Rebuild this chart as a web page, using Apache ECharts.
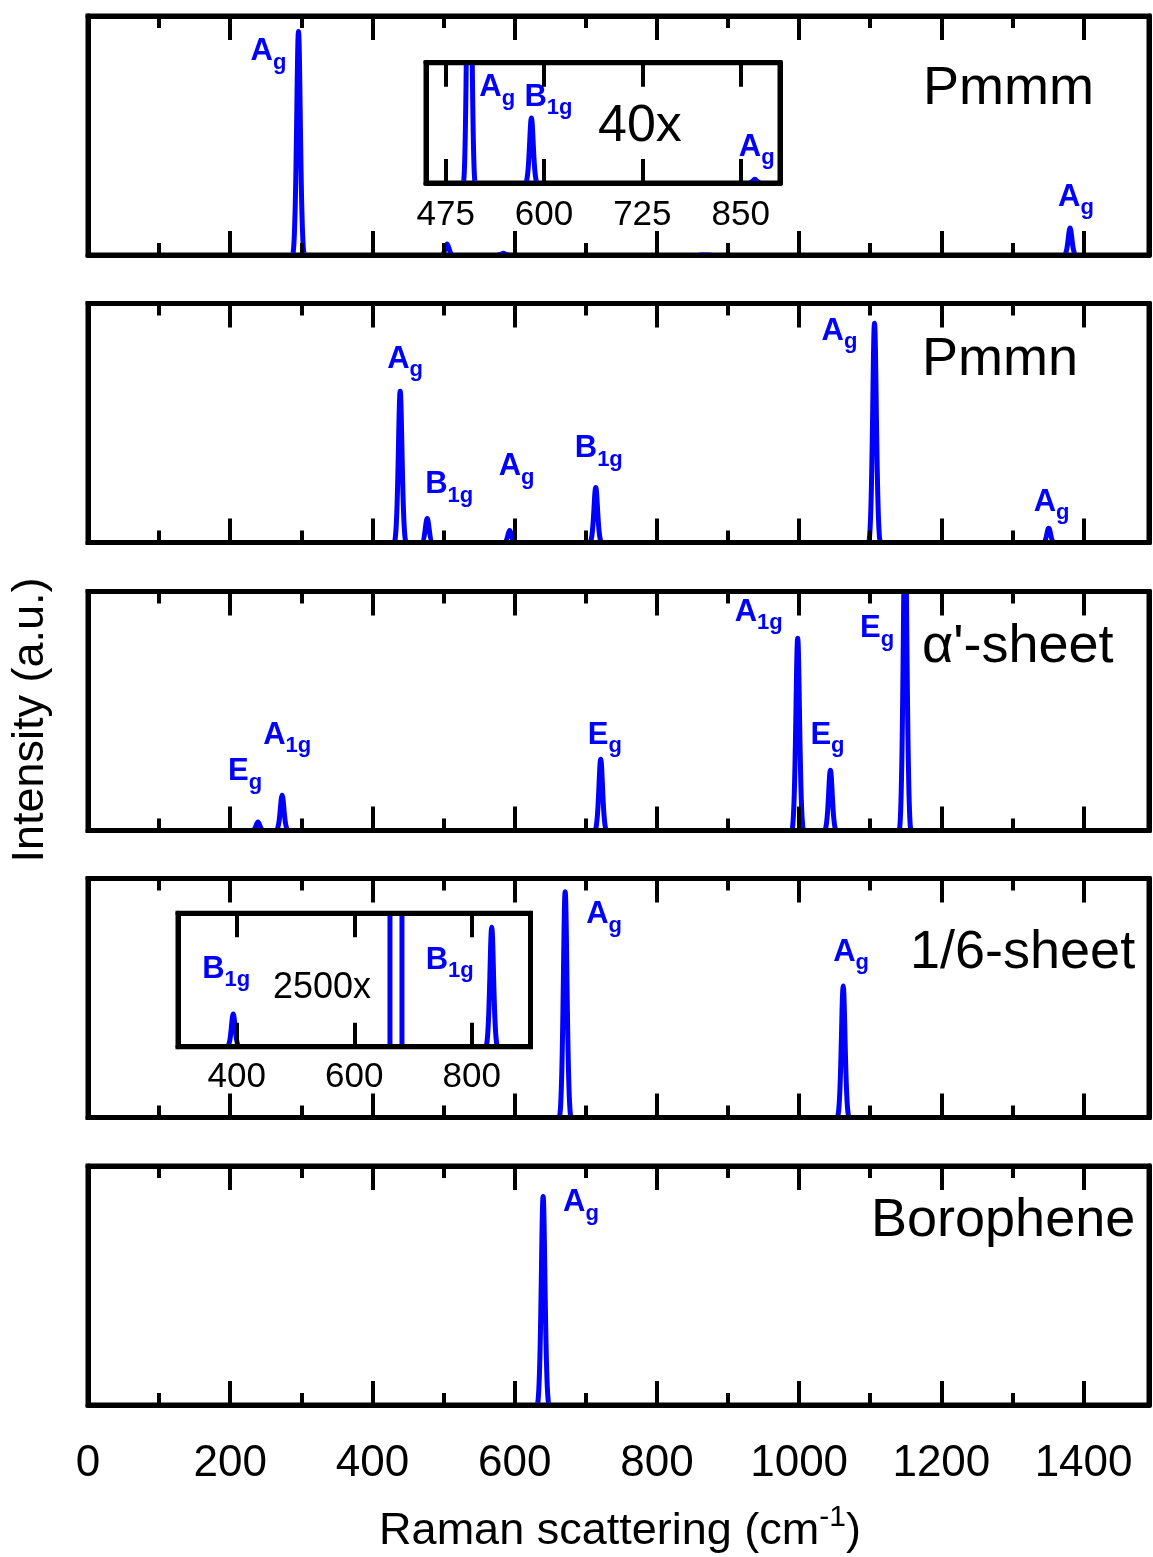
<!DOCTYPE html>
<html>
<head>
<meta charset="utf-8">
<script src="https://cdn.jsdelivr.net/npm/echarts@6/dist/echarts.min.js"></script>
<style>
  html, body { margin: 0; padding: 0; background: #fff; }
  #root { width: 1153px; height: 1557px; }
</style>
</head>
<body>
<div id="root"></div>
<script>
// ---- data ----
var majorTicks = [0, 200, 400, 600, 800, 1000, 1200, 1400];
var minorTicks = [100, 300, 500, 700, 900, 1100, 1300];
var inset1Ticks = [475, 600, 725, 850];
var inset2Ticks = [400, 600, 800];

var panelNames = ['Pmmm', 'Pmmn', "\u03b1'-sheet", '1/6-sheet', 'Borophene'];

// peak positions (cm-1), relative intensities, mode names
var pmmmPos = [296, 505, 584, 868, 1381];
var pmmmInt = [0.935, 0.046, 0.0068, 0.00038, 0.113];
var pmmmModes = ['A_g', 'A_g', 'B_1g', 'A_g', 'A_g'];

var pmmnPos = [439, 477, 593, 714, 1106, 1351];
var pmmnInt = [0.633, 0.10, 0.05, 0.23, 0.917, 0.06];
var pmmnModes = ['A_g', 'B_1g', 'A_g', 'B_1g', 'A_g', 'A_g'];

var alphaPos = [239, 273, 721, 998, 1044, 1149];
var alphaInt = [0.036, 0.147, 0.298, 0.804, 0.252, 1.3];
var alphaModes = ['E_g', 'A_1g', 'E_g', 'A_1g', 'E_g', 'E_g'];

var sixthPos = [394, 671, 834, 1062];
var sixthInt = [0.0000547, 0.945, 0.0002, 0.55];
var sixthModes = ['B_1g', 'A_g', 'B_1g', 'A_g'];

var boroPos = [640];
var boroInt = [0.872];
var boroModes = ['A_g'];

var insetFactors = [40, 2500];

// ---- layout / style ----
var FONT = 'Liberation Sans';
var BLUE = '#0000ff';
var X_MAX = 1492;
var LEFT = 88;
var PLOT_W = 1061;
var PANEL_TOPS = [16, 303.5, 591.5, 878.5, 1166];
var PANEL_H = 239;
var PEAK_HW = 6; // half base width of a drawn peak, px

// label offsets (px) from the peak top, per peak index
var panelLabels = [
  { 0: [-48, 20], 4: [-12, -31] },
  { 0: [-13, -32], 1: [-2, -34], 2: [-11, -64], 3: [-21, -39], 4: [-53, 8], 5: [-15, -26] },
  { 0: [-30, -50], 1: [-19, -60], 2: [-13, -24], 3: [-63, -26], 4: [-20, -35], 5: [-45, 37] },
  { 1: [21, 23], 3: [-10, -34] },
  { 0: [20, 6] }
];
var insets = [
  { panel: 0, left: 426, top: 62.7, width: 354, height: 120.3, min: 450, max: 900, ticks: inset1Ticks,
    margin: 32, labels: { 1: [10, 25], 2: [-7, -21], 3: [-16, -32] }, textPos: [598, 127], fontSize: 52 },
  { panel: 3, left: 178, top: 913.3, width: 352.5, height: 133.4, min: 300, max: 900, ticks: inset2Ticks,
    margin: 31, labels: { 0: [-31, -45], 2: [-66, 33] }, textPos: [273, 988], fontSize: 36 }
];
var namePos = [[923, 89], [922, 360], [922, 647], [910, 953], [871, 1221]];

var panels = [
  { pos: pmmmPos, int: pmmmInt, modes: pmmmModes },
  { pos: pmmnPos, int: pmmnInt, modes: pmmnModes },
  { pos: alphaPos, int: alphaInt, modes: alphaModes },
  { pos: sixthPos, int: sixthInt, modes: sixthModes },
  { pos: boroPos, int: boroInt, modes: boroModes }
];

var modeRich = {
  m: { fontSize: 31, fontWeight: 'bold', fontFamily: FONT, fill: BLUE, lineHeight: 31 },
  s: { fontSize: 22, fontWeight: 'bold', fontFamily: FONT, fill: BLUE, lineHeight: 22, padding: [22, 0, 0, 0] }
};

function modeText (mode) {
  var p = mode.split('_');
  return '{m|' + p[0] + '}{s|' + p[1] + '}';
}

function peakRenderer (modes, labels) {
  return function (params, api) {
    var x = api.value(0);
    var h = api.value(1);
    var k = api.value(2);
    var base = api.coord([x, 0]);
    var top = api.coord([x, h]);
    var cs = params.coordSys;
    var d = ['M', base[0] - PEAK_HW, base[1],
      'C', base[0] - PEAK_HW * 0.35, base[1], top[0] - 1.6, top[1], top[0], top[1],
      'C', top[0] + 1.6, top[1], base[0] + PEAK_HW * 0.35, base[1], base[0] + PEAK_HW, base[1]].join(' ');
    var children = [{
      type: 'path',
      shape: { pathData: d },
      style: { fill: 'none', stroke: BLUE, lineWidth: 5, lineJoin: 'round' }
    }];
    var off = labels[k];
    if (off) {
      var yRef = Math.max(top[1], cs.y);
      children.push({
        type: 'text',
        x: top[0] + off[0],
        y: yRef + off[1],
        style: { text: modeText(modes[k]), rich: modeRich, fill: BLUE, align: 'left', verticalAlign: 'middle' }
      });
    }
    return { type: 'group', children: children };
  };
}

var grids = [], xAxes = [], yAxes = [], series = [];

function addBox (rect, xmin, xmax, ymax, tickSets, showLabels, labelOpt) {
  var gi = grids.length;
  grids.push({
    left: rect.left, top: rect.top, width: rect.width, height: rect.height,
    show: true, borderWidth: 5, borderColor: '#000', backgroundColor: 'transparent',
    outerBoundsMode: 'none'
  });
  var firstX = xAxes.length;
  ['bottom', 'top'].forEach(function (position) {
    tickSets.forEach(function (ts, j) {
      xAxes.push({
        type: 'value', gridIndex: gi, min: xmin, max: xmax, position: position, z: 5,
        axisLine: { show: j === 0, onZero: false, lineStyle: { color: '#000', width: 5 } },
        axisTick: { show: true, inside: true, length: ts.len, customValues: ts.values,
          lineStyle: { color: '#000', width: 4 } },
        axisLabel: {
          show: showLabels && position === 'bottom' && j === 0,
          customValues: ts.values,
          formatter: function (v) { return String(v); },
          fontFamily: FONT, fontSize: labelOpt.fontSize, color: '#000',
          margin: labelOpt.margin, verticalAlign: 'middle'
        },
        splitLine: { show: false }
      });
    });
  });
  var firstY = yAxes.length;
  ['left', 'right'].forEach(function (position) {
    yAxes.push({
      type: 'value', gridIndex: gi, min: 0, max: ymax, position: position, z: 5,
      axisLine: { show: true, onZero: false, lineStyle: { color: '#000', width: 5 } },
      axisTick: { show: false }, axisLabel: { show: false }, splitLine: { show: false }
    });
  });
  return { x: firstX, y: firstY };
}

panels.forEach(function (p, i) {
  var ax = addBox({ left: LEFT, top: PANEL_TOPS[i], width: PLOT_W, height: PANEL_H }, 0, X_MAX, 1,
    [{ values: majorTicks, len: 24 }, { values: minorTicks, len: 12 }], i === 4, { fontSize: 44, margin: 59 });
  series.push({
    type: 'custom', xAxisIndex: ax.x, yAxisIndex: ax.y, clip: true, z: 2,
    data: p.pos.map(function (v, k) { return [v, p.int[k], k]; }),
    renderItem: peakRenderer(p.modes, panelLabels[i])
  });
});

insets.forEach(function (ins, n) {
  var p = panels[ins.panel];
  var yMax = (ins.height / PANEL_H) / insetFactors[n];
  var ax = addBox(ins, ins.min, ins.max, yMax, [{ values: ins.ticks, len: 24 }], true, { fontSize: 35, margin: ins.margin });
  series.push({
    type: 'custom', xAxisIndex: ax.x, yAxisIndex: ax.y, clip: true, z: 2,
    data: p.pos.map(function (v, k) { return [v, p.int[k], k]; }),
    renderItem: peakRenderer(p.modes, ins.labels)
  });
});

var graphics = [];
panelNames.forEach(function (name, i) {
  graphics.push({
    type: 'text', x: namePos[i][0], y: namePos[i][1], z: 10,
    style: { text: name, fontFamily: FONT, fontSize: 54, fill: '#000', align: 'left', verticalAlign: 'middle' }
  });
});
insets.forEach(function (ins, n) {
  graphics.push({
    type: 'text', x: ins.textPos[0], y: ins.textPos[1], z: 10,
    style: { text: insetFactors[n] + 'x', fontFamily: FONT, fontSize: ins.fontSize, fill: '#000', align: 'left', verticalAlign: 'middle' }
  });
});
graphics.push({
  type: 'text', x: 31, y: 720, rotation: Math.PI / 2, z: 10,
  style: { text: 'Intensity (a.u.)', fontFamily: FONT, fontSize: 45, fill: '#000', align: 'center', verticalAlign: 'middle' }
});
graphics.push({
  type: 'text', x: 620, y: 1532, z: 10,
  style: {
    text: '{a|Raman scattering (cm}{b|-1}{a|)}',
    rich: {
      a: { fontFamily: FONT, fontSize: 45, fill: '#000', lineHeight: 45 },
      b: { fontFamily: FONT, fontSize: 30, fill: '#000', lineHeight: 30, padding: [0, 0, 28, 0] }
    },
    fill: '#000', align: 'center', verticalAlign: 'middle'
  }
});

var chart = echarts.init(document.getElementById('root'), null, { renderer: 'canvas' });
chart.setOption({
  animation: false,
  backgroundColor: '#fff',
  grid: grids,
  xAxis: xAxes,
  yAxis: yAxes,
  series: series,
  graphic: graphics
});
</script>
</body>
</html>
